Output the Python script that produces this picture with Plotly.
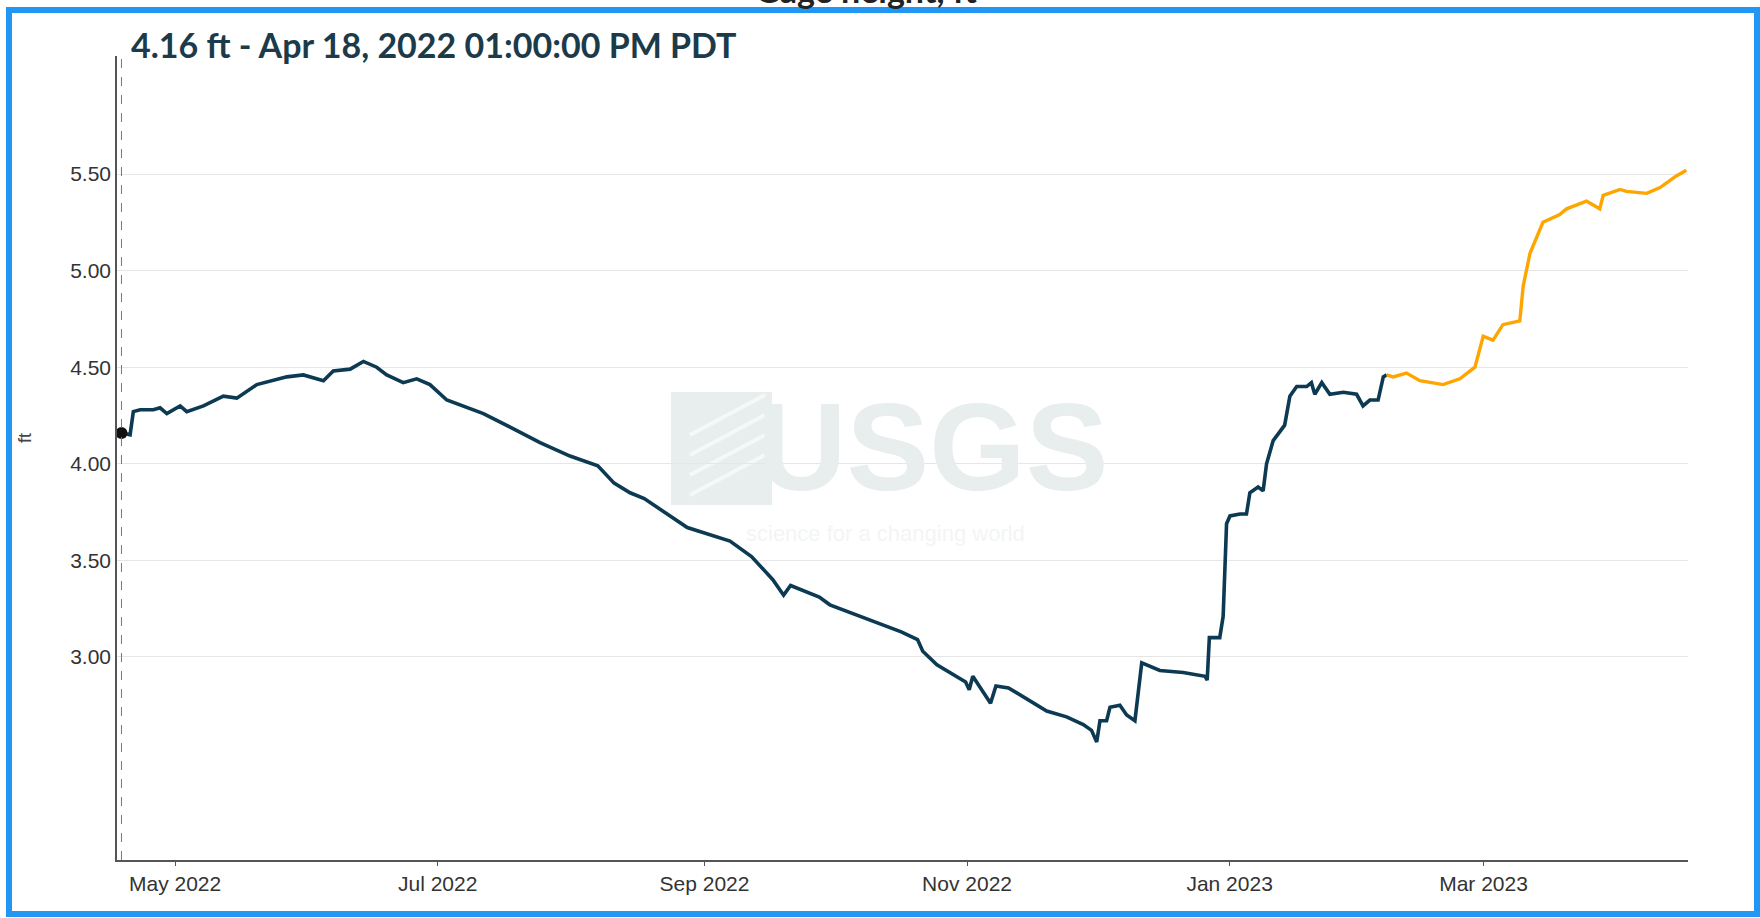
import plotly.graph_objects as go

# ---------------- data ----------------
approved_dates = [
    "2022-04-18 13:00", "2022-04-20 13:00", "2022-04-21 07:00", "2022-04-22 21:00",
    "2022-04-25 23:00", "2022-04-27 12:00", "2022-04-29 02:00", "2022-05-02 04:00",
    "2022-05-03 17:00", "2022-05-07 14:00", "2022-05-12 05:00", "2022-05-15 08:00",
    "2022-05-20 00:00", "2022-05-26 23:00", "2022-05-30 19:00", "2022-06-04 11:00",
    "2022-06-06 18:00", "2022-06-10 16:00", "2022-06-13 18:00", "2022-06-16 20:00",
    "2022-06-19 04:00", "2022-06-23 00:00", "2022-06-26 03:00", "2022-06-29 05:00",
    "2022-07-03 03:00", "2022-07-11 15:00", "2022-07-17 20:00", "2022-07-24 19:00",
    "2022-07-31 18:00", "2022-08-07 05:00", "2022-08-11 00:00", "2022-08-14 17:00",
    "2022-08-18 00:00", "2022-08-28 00:00", "2022-09-06 22:00", "2022-09-11 22:00",
    "2022-09-16 21:00", "2022-09-19 09:00", "2022-09-21 00:00", "2022-09-27 16:00",
    "2022-09-30 03:00", "2022-10-08 10:00", "2022-10-16 17:00", "2022-10-20 12:00",
    "2022-10-21 17:00", "2022-10-25 00:00", "2022-10-31 16:00", "2022-11-01 12:00",
    "2022-11-02 08:00", "2022-11-06 11:00", "2022-11-07 17:00", "2022-11-10 15:00",
    "2022-11-15 14:00", "2022-11-19 12:00", "2022-11-24 03:00", "2022-11-28 00:00",
    "2022-11-29 22:00", "2022-12-01 03:00", "2022-12-01 21:00", "2022-12-03 10:00",
    "2022-12-04 05:00", "2022-12-06 12:00", "2022-12-08 02:00", "2022-12-10 00:00",
    "2022-12-11 14:00", "2022-12-15 19:00", "2022-12-21 05:00", "2022-12-26 07:00",
    "2022-12-26 19:00", "2022-12-27 07:00", "2022-12-29 17:00", "2022-12-30 12:00",
    "2022-12-31 07:00", "2023-01-01 02:00", "2023-01-03 10:00", "2023-01-04 22:00",
    "2023-01-05 17:00", "2023-01-07 15:00", "2023-01-08 19:00", "2023-01-09 14:00",
    "2023-01-11 03:00", "2023-01-12 17:00", "2023-01-13 19:00", "2023-01-15 00:00",
    "2023-01-16 14:00", "2023-01-18 22:00", "2023-01-20 00:00", "2023-01-20 19:00",
    "2023-01-22 10:00", "2023-01-24 07:00", "2023-01-27 10:00", "2023-01-30 12:00",
    "2023-02-01 00:00", "2023-02-02 14:00", "2023-02-04 12:00", "2023-02-05 17:00",
    "2023-02-06 12:00",
]
approved_ft = [
    4.16, 4.15, 4.27, 4.28,
    4.28, 4.29, 4.26, 4.30,
    4.27, 4.30, 4.35, 4.34,
    4.41, 4.45, 4.46, 4.43,
    4.48, 4.49, 4.53, 4.50,
    4.46, 4.42, 4.44, 4.41,
    4.33, 4.26, 4.19, 4.11,
    4.04, 3.99, 3.90, 3.85,
    3.82, 3.67, 3.60, 3.52,
    3.40, 3.32, 3.37, 3.31,
    3.27, 3.20, 3.13, 3.09,
    3.03, 2.96, 2.87, 2.83,
    2.90, 2.76, 2.85, 2.84,
    2.77, 2.72, 2.69, 2.65,
    2.62, 2.56, 2.67, 2.67,
    2.74, 2.75, 2.70, 2.67,
    2.97, 2.93, 2.92, 2.90,
    2.88, 3.10, 3.10, 3.21,
    3.69, 3.73, 3.74, 3.74,
    3.85, 3.88, 3.86, 4.00,
    4.12, 4.17, 4.20, 4.35,
    4.40, 4.40, 4.42, 4.36,
    4.42, 4.36, 4.37, 4.36,
    4.30, 4.33, 4.33, 4.45,
    4.46,
]

provisional_dates = [
    "2023-02-06 12:00", "2023-02-08 00:00", "2023-02-11 02:00", "2023-02-14 05:00",
    "2023-02-19 14:00", "2023-02-23 12:00", "2023-02-27 00:00", "2023-02-28 22:00",
    "2023-03-03 05:00", "2023-03-05 12:00", "2023-03-09 10:00", "2023-03-10 05:00",
    "2023-03-11 19:00", "2023-03-14 02:00", "2023-03-14 19:00", "2023-03-18 17:00",
    "2023-03-20 07:00", "2023-03-24 22:00", "2023-03-28 00:00", "2023-03-28 19:00",
    "2023-04-01 17:00", "2023-04-03 05:00", "2023-04-07 22:00", "2023-04-11 00:00",
    "2023-04-14 19:00", "2023-04-17 03:00",
]
provisional_ft = [
    4.46, 4.45, 4.47, 4.43,
    4.41, 4.44, 4.50, 4.66,
    4.64, 4.72, 4.74, 4.92,
    5.09, 5.21, 5.25, 5.29,
    5.32, 5.36, 5.32, 5.39,
    5.42, 5.41, 5.40, 5.43,
    5.49, 5.52,
]

cursor_date = "2022-04-18 13:00"
cursor_value = 4.16

y_tick_values = [3.0, 3.5, 4.0, 4.5, 5.0, 5.5]
y_tick_labels = ["3.00", "3.50", "4.00", "4.50", "5.00", "5.50"]
x_range = ["2022-04-17 12:00", "2023-04-17 12:00"]
y_range = [1.949, 6.111]

chart_title = "Gage height, ft"
hover_title = "4.16 ft - Apr 18, 2022 01:00:00 PM PDT"
y_axis_title = "ft"

# ---------------- layout geometry ----------------
W, H = 1760, 918
L, R, T, B = 117, 72, 56, 58
PW, PH = W - L - R, H - T - B


def px_x(px):
    return (px - L) / PW


def px_y(py):
    return (H - B - py) / PH


DARK = "#0c3a52"
ORANGE = "#ffa500"
BLUE = "#2196f3"
TEXT = "#1c3b4a"

fig = go.Figure()

fig.add_trace(go.Scatter(
    x=approved_dates, y=approved_ft, mode="lines",
    line=dict(color=DARK, width=3.6), hoverinfo="skip", showlegend=False,
))
fig.add_trace(go.Scatter(
    x=provisional_dates, y=provisional_ft, mode="lines",
    line=dict(color=ORANGE, width=3.4), hoverinfo="skip", showlegend=False,
))
fig.add_trace(go.Scatter(
    x=[cursor_date], y=[cursor_value], mode="markers",
    marker=dict(color="#111111", size=12), hoverinfo="skip", showlegend=False,
))

shapes = [
    # outer blue frame
    dict(type="rect", xref="paper", yref="paper",
         x0=px_x(9), x1=px_x(1757), y0=px_y(914), y1=px_y(10),
         line=dict(color=BLUE, width=6), fillcolor="rgba(0,0,0,0)", layer="above"),
    # hover cursor dashed line
    dict(type="line", xref="x", yref="paper", x0=cursor_date, x1=cursor_date,
         y0=0, y1=1, line=dict(color="#777777", width=1, dash="dash"), layer="above"),
    # watermark logo block
    dict(type="rect", xref="paper", yref="paper",
         x0=px_x(671), x1=px_x(772), y0=px_y(505), y1=px_y(392),
         line=dict(width=0), fillcolor="#e8eded", layer="below"),
]
for k in range(4):
    shapes.append(dict(
        type="line", xref="paper", yref="paper",
        x0=px_x(690), x1=px_x(765), y0=px_y(470 - k * 20 + 25), y1=px_y(430 - k * 20 + 25),
        line=dict(color="#f6f8f8", width=4), layer="below"))

annotations = [
    dict(text=f"<b>{chart_title}</b>", xref="paper", yref="paper",
         x=px_x(866), y=px_y(12), xanchor="center", yanchor="bottom",
         showarrow=False, font=dict(family="Lato", size=34, color="#222222")),
    dict(text=f"<b>{hover_title}</b>", xref="paper", yref="paper",
         x=px_x(129), y=px_y(67), xanchor="left", yanchor="bottom",
         showarrow=False, font=dict(family="Lato", size=34, color=TEXT)),
    dict(text=y_axis_title, xref="paper", yref="paper",
         x=px_x(25), y=px_y(438), xanchor="center", yanchor="middle",
         textangle=-90, showarrow=False,
         font=dict(family="Liberation Sans, Arial", size=18, color="#444444")),
    dict(text="<b>USGS</b>", xref="paper", yref="paper",
         x=px_x(933), y=px_y(447), xanchor="center", yanchor="middle",
         showarrow=False, font=dict(family="Liberation Sans, Arial", size=124, color="#e8eded")),
    dict(text="science for a changing world", xref="paper", yref="paper",
         x=px_x(885), y=px_y(533), xanchor="center", yanchor="middle",
         showarrow=False, font=dict(family="Liberation Sans, Arial", size=22, color="#f3f5f5")),
]

fig.update_layout(
    width=W, height=H,
    margin=dict(l=L, r=R, t=T, b=B, pad=0),
    paper_bgcolor="white", plot_bgcolor="white",
    shapes=shapes, annotations=annotations,
    showlegend=False,
)
fig.update_xaxes(
    type="date", range=x_range,
    tick0="2022-05-01", dtick="M2", tickformat="%b %Y",
    ticks="outside", ticklen=4, tickwidth=1, tickcolor="#555555",
    showline=True, linecolor="#555555", linewidth=1.5,
    showgrid=False, zeroline=False,
    tickfont=dict(family="Liberation Sans, Arial", size=21, color="#333333"),
)
fig.update_yaxes(
    range=y_range, tickvals=y_tick_values, ticktext=y_tick_labels,
    ticks="", showline=True, linecolor="#555555", linewidth=1.5,
    showgrid=True, gridcolor="#e6e6e6", gridwidth=1.2, zeroline=False,
    tickfont=dict(family="Liberation Sans, Arial", size=21, color="#333333"),
)

fig.write_html(
    "out.html",
    config={"displayModeBar": False},
    post_script="document.body.style.margin='0';document.body.style.overflow='hidden';",
)
